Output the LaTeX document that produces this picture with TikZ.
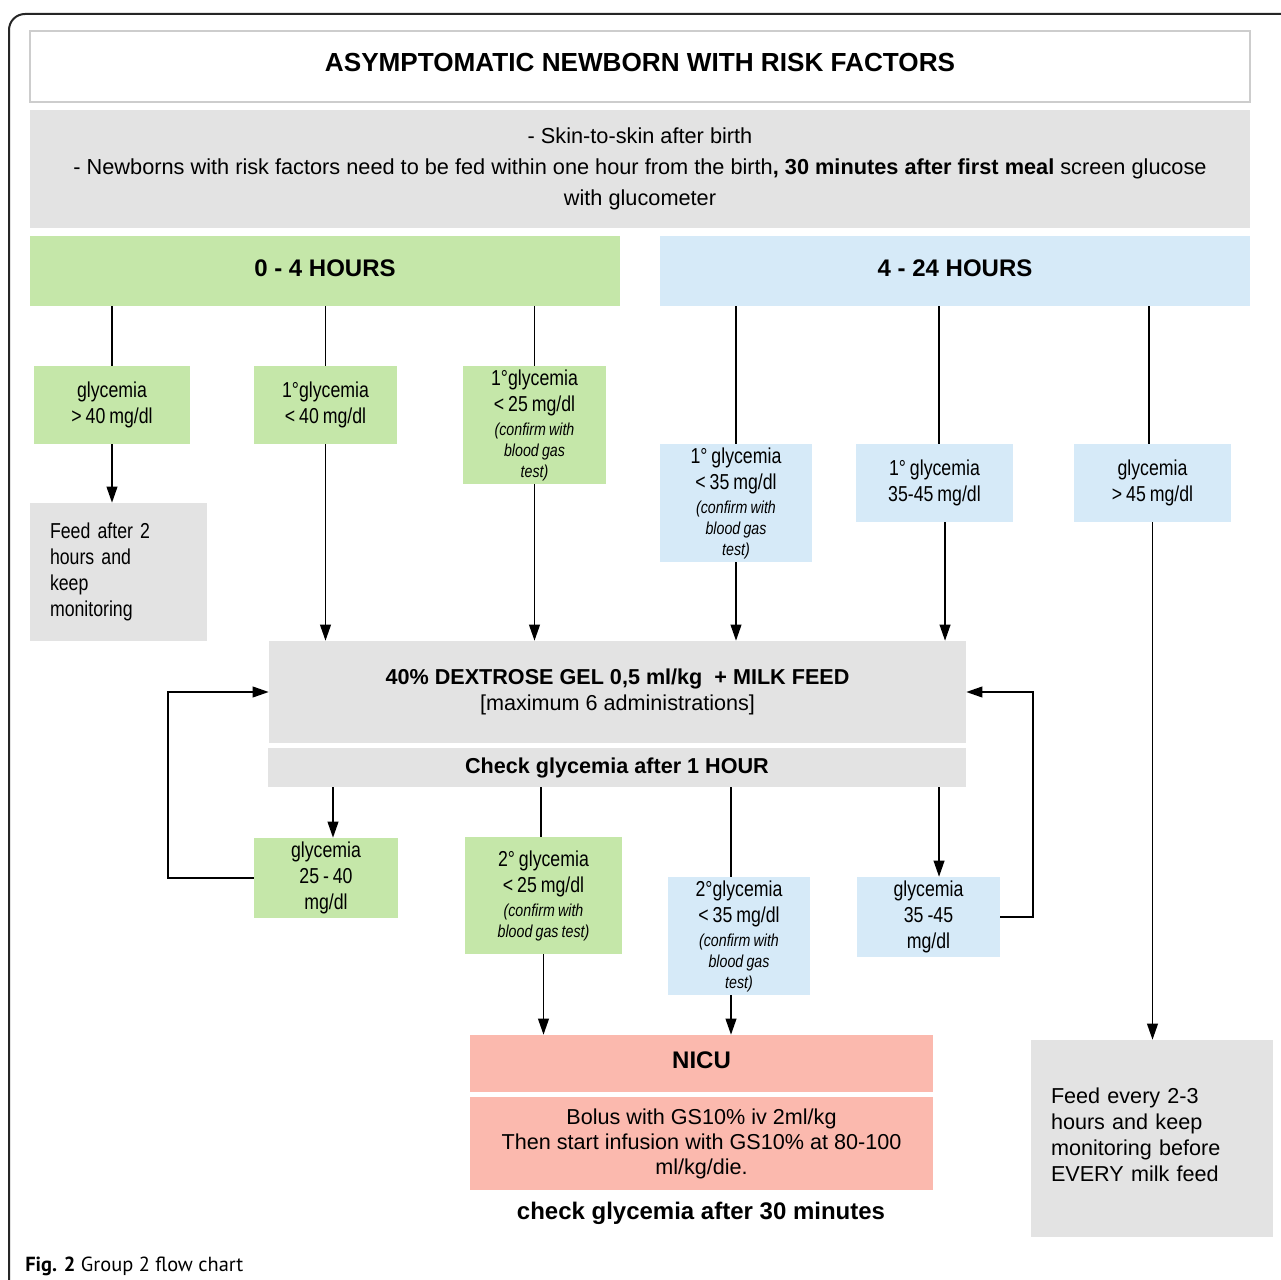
\documentclass[tikz,border=0pt]{standalone}
\usepackage{fontspec}
\setmainfont{Liberation Sans}
\newfontfamily\nfont{Liberation Sans}[FakeStretch=0.82, WordSpace=0.8]
\newfontfamily\capfont{PT Sans}
\usetikzlibrary{arrows.meta}
\definecolor{gfill}{RGB}{197,231,169}
\definecolor{bfill}{RGB}{214,234,248}
\definecolor{grfill}{RGB}{227,227,227}
\definecolor{pfill}{RGB}{251,185,174}
\definecolor{tborder}{RGB}{205,205,205}
\newcommand\fcbox[7]{\node[#2, minimum width={(#5-#3)*0.75pt}, minimum height={(#6-#4)*0.75pt}] (#1) at ({(#3+#5)/2},{(#4+#6)/2}) {#7};}
\newcommand\cf[1]{{\itshape\fontsize{13}{15.75}\selectfont #1}}
\tikzset{
  box/.style={inner sep=0pt, align=center, text=black},
  gbox/.style={box, fill=gfill, font=\nfont\fontsize{16.2}{19.5}\selectfont},
  bbox/.style={box, fill=bfill, font=\nfont\fontsize{16.2}{19.5}\selectfont},
  graybox/.style={box, fill=grfill, font=\fontsize{16.2}{19.5}\selectfont},
  pbox/.style={box, fill=pfill, font=\fontsize{16.2}{18.75}\selectfont},
  ln/.style={draw=black, line width=1.3pt},
  arr/.style={ln, -{Triangle[length=12pt,width=8pt]}},
}
\begin{document}
\begin{tikzpicture}[x=0.75pt,y=-0.75pt]
\useasboundingbox (0,0) rectangle (1281,1280);
\fill[white] (0,0) rectangle (1281,1280);
\draw[line width=1.5pt, draw=black!85, rounded corners=12pt] (9,1281) -- (9,14) -- (1282,14);

% title and info
\fcbox{title}{box, draw=tborder, line width=1.3pt, fill=white, text depth=6pt, font=\bfseries\fontsize{19.6}{23}\selectfont}{30}{31}{1250}{102}{ASYMPTOMATIC NEWBORN WITH RISK FACTORS}
\fcbox{info}{graybox, font=\fontsize{16.3}{23.25}\selectfont}{30}{110}{1250}{228}{- Skin-to-skin after birth\\- Newborns with risk factors need to be fed within one hour from the birth\textbf{, 30 minutes after first meal} screen glucose\\with glucometer}

% headers
\fcbox{hg}{box, fill=gfill, text depth=4.5pt, font=\bfseries\fontsize{18}{21}\selectfont}{30}{236}{620}{306}{0 - 4 HOURS}
\fcbox{hb}{box, fill=bfill, text depth=4.5pt, font=\bfseries\fontsize{18}{21}\selectfont}{660}{236}{1250}{306}{4 - 24 HOURS}

% first row
\fcbox{g1}{gbox}{34}{366}{190}{444}{glycemia\\> 40 mg/dl}
\fcbox{g2}{gbox}{254}{366}{397}{444}{1°glycemia\\< 40 mg/dl}
\fcbox{g3}{gbox}{463}{366}{606}{484}{1°glycemia\\< 25 mg/dl\\[-1.5pt]\cf{(confirm with}\\[-3.75pt]\cf{blood gas}\\[-3.75pt]\cf{test)}}
\fcbox{b1}{bbox}{660}{444}{812}{562}{1° glycemia\\< 35 mg/dl\\[-1.5pt]\cf{(confirm with}\\[-3.75pt]\cf{blood gas}\\[-3.75pt]\cf{test)}}
\fcbox{b2}{bbox}{856}{444}{1013}{522}{1° glycemia\\35-45 mg/dl}
\fcbox{b3}{bbox}{1074}{444}{1231}{522}{glycemia\\> 45 mg/dl}

% feed boxes
\fcbox{f1}{graybox, font=\nfont\fontsize{16.2}{19.5}\selectfont, align=left, text width=102.75pt, inner xsep=15pt}{30}{503}{207}{641}{Feed after 2\\hours and\\keep\\monitoring}
\fcbox{f2}{graybox, align=left, text width=151.5pt, inner xsep=15pt}{1031}{1040}{1273}{1237}{Feed every 2-3\\hours and keep\\monitoring before\\EVERY milk feed\\[-13.5pt]\mbox{}}

% dextrose and check
\fcbox{dex}{graybox}{269}{641}{966}{743}{\textbf{40\% DEXTROSE GEL 0,5 ml/kg\ \ + MILK FEED}\\{[maximum 6 administrations]}}
\fcbox{chk}{graybox}{268}{748}{966}{787}{\textbf{Check glycemia after 1 HOUR}}

% second row
\fcbox{c1}{gbox}{254}{838}{398}{918}{glycemia\\25 - 40\\mg/dl}
\fcbox{c2}{gbox}{465}{837}{622}{954}{2° glycemia\\< 25 mg/dl\\[-1.5pt]\cf{(confirm with}\\[-3.75pt]\cf{blood gas test)}}
\fcbox{c3}{bbox}{668}{877}{810}{995}{2°glycemia\\< 35 mg/dl\\[-1.5pt]\cf{(confirm with}\\[-3.75pt]\cf{blood gas}\\[-3.75pt]\cf{test)}}
\fcbox{c4}{bbox}{857}{877}{1000}{957}{glycemia\\35 -45\\mg/dl}

% NICU
\fcbox{nicu}{pbox, text depth=4.5pt, font=\bfseries\fontsize{18}{21}\selectfont}{470}{1035}{933}{1092}{NICU}
\fcbox{bolus}{pbox}{470}{1097}{933}{1190}{Bolus with GS10\% iv 2ml/kg\\Then start infusion with GS10\% at 80-100\\ml/kg/die.}
\node[font=\bfseries\fontsize{18}{21}\selectfont, inner sep=0pt] (chk30) at (701,1213) {check glycemia after 30 minutes};

% caption
\node[anchor=base west, inner sep=0pt, font=\capfont\fontsize{15.3}{18}\selectfont] (cap) at (25,1271) {\textbf{Fig. 2} Group 2 flow chart};

% connectors from headers
\draw[ln] (g1.north |- hg.south) -- (g1.north);
\draw[ln] (g2.north |- hg.south) -- (g2.north);
\draw[ln] (g3.north |- hg.south) -- (g3.north);
\draw[ln] (b1.north |- hb.south) -- (b1.north);
\coordinate (b2t) at ([xshift=3.4pt]b2.north);
\draw[ln] (b2t |- hb.south) -- (b2t);
\coordinate (b3t) at ([xshift=-2.6pt]b3.north);
\draw[ln] (b3t |- hb.south) -- (b3t);

% arrows row 1
\draw[arr] (g1.south) -- (g1.south |- f1.north);
\draw[arr] (g2.south) -- (g2.south |- dex.north);
\draw[arr] (g3.south) -- (g3.south |- dex.north);
\draw[arr] (b1.south) -- (b1.south |- dex.north);
\coordinate (b2b) at ([xshift=7.9pt]b2.south);
\draw[arr] (b2b) -- (b2b |- dex.north);
\draw[arr] (b3.south) -- (b3.south |- f2.north);

% from check
\coordinate (c1t) at ([xshift=5.25pt]c1.north);
\draw[arr] (c1t |- chk.south) -- (c1t);
\coordinate (c2t) at ([xshift=-1.9pt]c2.north);
\draw[ln] (c2t |- chk.south) -- (c2t);
\coordinate (c3t) at ([xshift=-6pt]c3.north);
\draw[ln] (c3t |- chk.south) -- (c3t);
\coordinate (c4t) at ([xshift=7.9pt]c4.north);
\draw[arr] (c4t |- chk.south) -- (c4t);

% to NICU
\draw[arr] (c2.south) -- (c2.south |- nicu.north);
\coordinate (c3b) at ([xshift=-6pt]c3.south);
\draw[arr] (c3b) -- (c3b |- nicu.north);

% loops
\draw[arr] (c1.west) -- ++(-86,0) |- (dex.west);
\draw[arr] (c4.east) -- ++(33,0) |- (dex.east);
\end{tikzpicture}
\end{document}
